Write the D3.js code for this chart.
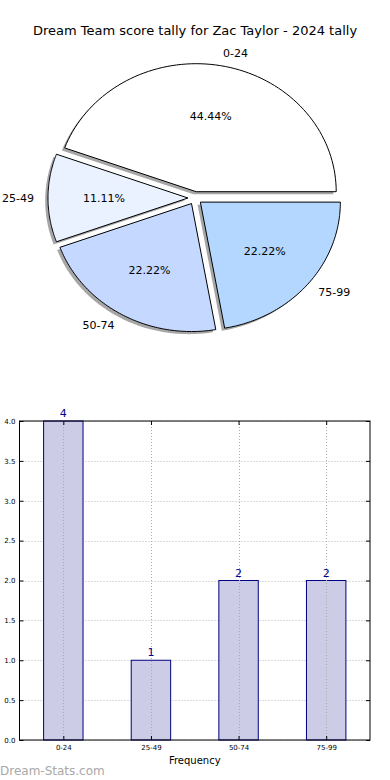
<!DOCTYPE html>
<html><head><meta charset="utf-8">
<script src="https://cdn.jsdelivr.net/npm/d3@7"></script>
<style>body{margin:0;background:#fff}svg{display:block}text{font-family:"DejaVu Sans",sans-serif}</style>
</head><body>
<svg id="c" width="390" height="780"></svg>
<script>
const title = "Dream Team score tally for Zac Taylor - 2024 tally";
const categories = ["0-24", "25-49", "50-74", "75-99"];
const counts = [4, 1, 2, 2];
const sliceColors = ["#ffffff", "#eaf1ff", "#c5d8ff", "#b3d7ff"];
const yTicks = [0, 0.5, 1, 1.5, 2, 2.5, 3, 3.5, 4];
const xLabel = "Frequency";
const watermark = "Dream-Stats.com";

const svg = d3.select("#c");

svg.append("text").attr("x", 195).attr("y", 35).attr("text-anchor", "middle")
  .attr("font-size", 13).attr("fill", "#000").text(title);

// ---- Pie (matplotlib-style: start at east, counter-clockwise, elliptical axes)
const cx = 195, cy = 198, rx = 140, ry = 128, explode = 0.05;
const total = d3.sum(counts);
const pieGen = d3.pie().sort(null).value(d => d).startAngle(0).endAngle(2 * Math.PI);
const arcs = pieGen(counts);
function pt(theta, r) { return [Math.cos(theta) * r * rx, -Math.sin(theta) * r * ry]; }
function wedgePath(a0, a1) {
  const n = 80, pts = [[0, 0]];
  for (let i = 0; i <= n; i++) { const t = a0 + (a1 - a0) * i / n; pts.push(pt(t, 1)); }
  return d3.line()(pts) + "Z";
}
const gPie = svg.append("g");
const slices = arcs.map((a, i) => {
  const t0 = a.startAngle, t1 = a.endAngle; // used as ccw from east
  const tm = (t0 + t1) / 2;
  const ox = cx + Math.cos(tm) * explode * rx, oy = cy - Math.sin(tm) * explode * ry;
  return { i, t0, t1, tm, ox, oy, v: a.value };
});
slices.forEach(s => {
  gPie.append("path").attr("d", wedgePath(s.t0, s.t1))
    .attr("transform", `translate(${s.ox - 2.8},${s.oy + 2.6})`)
    .attr("fill", "#4d4d4d").attr("fill-opacity", 0.5).attr("stroke", "none");
});
slices.forEach(s => {
  gPie.append("path").attr("d", wedgePath(s.t0, s.t1))
    .attr("transform", `translate(${s.ox},${s.oy})`)
    .attr("fill", sliceColors[s.i]).attr("stroke", "#000").attr("stroke-width", 1)
    .attr("stroke-linejoin", "miter");
});
slices.forEach(s => {
  const lx = s.ox + Math.cos(s.tm) * 1.1 * rx, ly = s.oy - Math.sin(s.tm) * 1.1 * ry;
  gPie.append("text").attr("x", lx).attr("y", ly).attr("dy", "0.35em")
    .attr("text-anchor", Math.cos(s.tm) > 0 ? "start" : "end")
    .attr("font-size", 11).text(categories[s.i]);
  const px = s.ox + Math.cos(s.tm) * 0.6 * rx, py = s.oy - Math.sin(s.tm) * 0.6 * ry;
  gPie.append("text").attr("x", px).attr("y", py).attr("dy", "0.35em")
    .attr("text-anchor", "middle").attr("font-size", 11)
    .text((s.v / total * 100).toFixed(2) + "%");
});

// ---- Bar chart
const L = 19.5, R = 370, T = 421, B = 740;
const x = d3.scaleLinear().domain([-0.5, categories.length - 0.5]).range([L, R]);
const y = d3.scaleLinear().domain([0, 4]).range([B, T]);
const bw = x(0.45) - x(0);
const gBar = svg.append("g");
gBar.selectAll(".hg").data(yTicks).enter().append("line")
  .attr("x1", L).attr("x2", R).attr("y1", d => Math.round(y(d)) + 0.5).attr("y2", d => Math.round(y(d)) + 0.5)
  .attr("stroke", "#bbb").attr("stroke-width", 1).attr("stroke-dasharray", "1,2");
gBar.selectAll(".bar").data(counts).enter().append("rect")
  .attr("x", (d, i) => x(i) - bw / 2).attr("width", bw)
  .attr("y", d => y(d)).attr("height", d => y(0) - y(d))
  .attr("fill", "#ccccE6").attr("stroke", "#000080").attr("stroke-width", 1);
gBar.selectAll(".vg").data(categories).enter().append("line")
  .attr("x1", (d, i) => Math.round(x(i)) + 0.5).attr("x2", (d, i) => Math.round(x(i)) + 0.5)
  .attr("y1", T).attr("y2", B)
  .attr("stroke", "#aaa").attr("stroke-width", 1).attr("stroke-dasharray", "1,2");
gBar.selectAll(".vl").data(counts).enter().append("text")
  .attr("x", (d, i) => x(i)).attr("y", d => y(d) - 4)
  .attr("text-anchor", "middle").attr("font-size", 11).attr("fill", "#00008b").text(d => d);
gBar.append("rect").attr("x", L).attr("y", T).attr("width", R - L).attr("height", B - T)
  .attr("fill", "none").attr("stroke", "#000").attr("stroke-width", 1);
const yAxis = d3.axisLeft(y).tickValues(yTicks).tickFormat(d3.format(".1f")).tickSize(-4).tickPadding(4);
const ga = gBar.append("g").attr("transform", `translate(${L},0)`).call(yAxis);
ga.select(".domain").remove();
ga.selectAll("text").attr("font-size", 7).attr("font-family", "DejaVu Sans");
const yAxisR = d3.axisRight(y).tickValues(yTicks).tickFormat("").tickSize(-4);
const gr = gBar.append("g").attr("transform", `translate(${R},0)`).call(yAxisR);
gr.select(".domain").remove();
const xAxis = d3.axisBottom(x).tickValues(d3.range(categories.length)).tickFormat(i => categories[i]).tickSize(-4).tickPadding(5);
const gx = gBar.append("g").attr("transform", `translate(0,${B})`).call(xAxis);
gx.select(".domain").remove();
gx.selectAll("text").attr("font-size", 7).attr("font-family", "DejaVu Sans");
const xAxisT = d3.axisTop(x).tickValues(d3.range(categories.length)).tickFormat("").tickSize(-4);
const gt = gBar.append("g").attr("transform", `translate(0,${T})`).call(xAxisT);
gt.select(".domain").remove();

svg.append("text").attr("x", (L + R) / 2).attr("y", 764).attr("text-anchor", "middle")
  .attr("font-size", 10).text(xLabel);
svg.append("text").attr("x", 0).attr("y", 775).attr("font-size", 12)
  .attr("fill", "#a8a8a8").text(watermark);
</script>
</body></html>
